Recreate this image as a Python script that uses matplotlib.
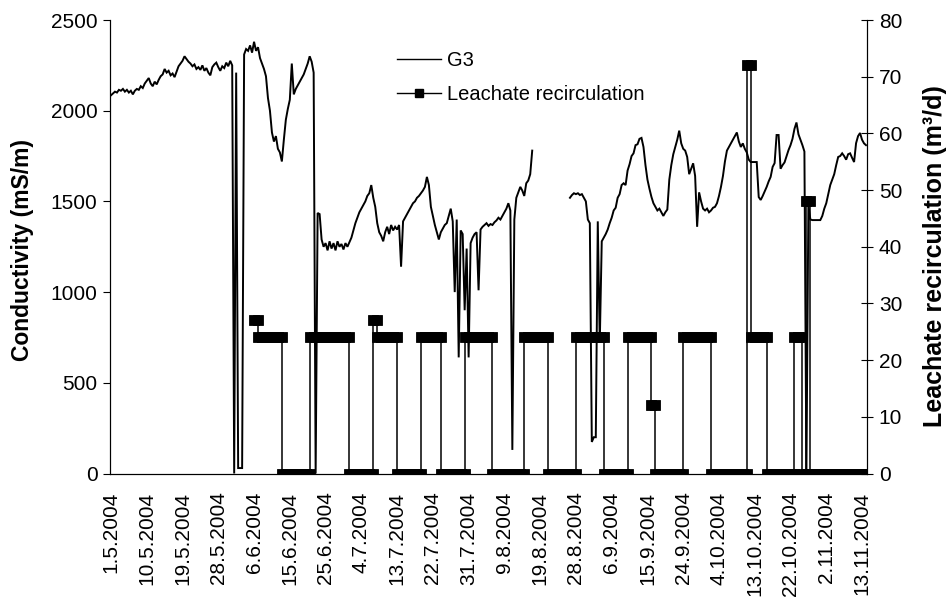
import matplotlib
matplotlib.use('Agg')
import matplotlib.pyplot as plt
from matplotlib.lines import Line2D
import numpy as np

plt.rcParams['font.family'] = ['Liberation Sans', 'DejaVu Sans']

# date labels on the category axis, one every 18 readings
date_labels = ['1.5.2004', '10.5.2004', '19.5.2004', '28.5.2004', '6.6.2004',
               '15.6.2004', '25.6.2004', '4.7.2004', '13.7.2004', '22.7.2004',
               '31.7.2004', '9.8.2004', '19.8.2004', '28.8.2004', '6.9.2004',
               '15.9.2004', '24.9.2004', '4.10.2004', '13.10.2004', '22.10.2004',
               '2.11.2004', '13.11.2004']
per_label = 18

nan = np.nan
# conductivity in well G3 (mS/m), two readings per day
g3 = [
    2085, 2095, 2105, 2100, 2115, 2110, 2120, 2105, 2115, 2100, 2110, 2090, 2110, 2120, 2115, 2135, 2125, 2150,
    2165, 2180, 2150, 2135, 2160, 2145, 2170, 2190, 2200, 2230, 2210, 2220, 2195, 2205, 2185, 2215, 2245, 2260,
    2275, 2300, 2285, 2270, 2260, 2245, 2255, 2230, 2240, 2225, 2250, 2220, 2235, 2210, 2195, 2240, 2255, 2265,
    2240, 2220, 2245, 2235, 2265, 2245, 2275, 2250, 0, 2210, 30, 30, 30, 2310, 2340, 2330, 2360, 2320,
    2380, 2330, 2350, 2290, 2260, 2230, 2190, 2070, 2000, 1880, 1830, 1860, 1790, 1770, 1720, 1840, 1950, 2010,
    2060, 2260, 2090, 2120, 2140, 2160, 2180, 2200, 2230, 2260, 2300, 2270, 2210, 0, 1436, 1430, 1290, 1250,
    1270, 1230, 1280, 1240, 1270, 1230, 1280, 1250, 1265, 1235, 1270, 1250, 1275, 1300, 1340, 1380, 1410, 1440,
    1460, 1480, 1500, 1530, 1545, 1590, 1520, 1470, 1380, 1330, 1310, 1280, 1330, 1360, 1320, 1370, 1340, 1360,
    1345, 1370, 1140, 1390, 1410, 1430, 1450, 1470, 1490, 1500, 1520, 1530, 1545, 1560, 1580, 1635, 1590, 1470,
    1420, 1370, 1330, 1290, 1330, 1350, 1370, 1380, 1420, 1460, 1390, 1000, 1400, 640, 1340, 1320, 900, 1240,
    640, 1270, 1300, 1320, 1330, 1010, 1345, 1360, 1370, 1380, 1365, 1375, 1370, 1385, 1395, 1410, 1400, 1420,
    1440, 1460, 1490, 1450, 130, 1400, 1520, 1550, 1580, 1560, 1530, 1600, 1615, 1650, 1780, nan, nan, nan,
    nan, nan, nan, nan, nan, nan, nan, nan, nan, nan, nan, nan, nan, nan, nan, 1520, 1535, 1545,
    1540, 1545, 1535, 1540, 1520, 1500, 1400, 1380, 174, 200, 200, 1390, 720, 1280, 1300, 1320, 1345, 1380,
    1410, 1450, 1465, 1520, 1540, 1590, 1600, 1590, 1670, 1705, 1750, 1765, 1810, 1815, 1845, 1850, 1800, 1700,
    1620, 1570, 1525, 1490, 1470, 1450, 1460, 1440, 1420, 1440, 1455, 1620, 1700, 1760, 1800, 1840, 1890, 1820,
    1790, 1780, 1745, 1650, 1680, 1710, 1640, 1360, 1550, 1500, 1460, 1450, 1460, 1440, 1450, 1465, 1470, 1490,
    1530, 1580, 1640, 1720, 1780, 1800, 1820, 1840, 1860, 1880, 1830, 1800, 1820, 1790, 1770, 1730, 1717, 1717,
    1717, 1717, 1524, 1508, 1530, 1555, 1580, 1610, 1635, 1690, 1711, 1866, 1866, 1680, 1700, 1715, 1750, 1783,
    1810, 1845, 1900, 1935, 1870, 1840, 1810, 1775, 0, 1480, 1400, 1397, 1397, 1397, 1397, 1397, 1420, 1460,
    1490, 1540, 1590, 1620, 1650, 1700, 1745, 1750, 1765, 1750, 1730, 1760, 1765, 1740, 1717, 1821, 1860, 1877,
    1840, 1820, 1810,
]

# leachate recirculation (m3/d): day a rate starts (days counted on the axis) and the rate
rec_start = [36, 37, 43, 50, 60, 66, 67, 72, 78, 83, 89, 96, 104, 110, 117, 124,
             130, 136, 137, 144, 151, 160, 161, 165, 172, 174, 175, 176]
rec_rate = [27, 24, 0, 24, 0, 27, 24, 0, 24, 0, 24, 0, 24, 0, 24, 0,
            24, 12, 0, 24, 0, 72, 24, 0, 24, 0, 48, 0]
rec_end = 190

g3 = np.array(g3, dtype=float)
gx = np.arange(len(g3)) / per_label

# each day is drawn from its start to its end at the same rate
days = np.arange(rec_start[0], rec_end)
daily = np.repeat(rec_rate, np.diff(rec_start + [rec_end]))
rx = np.column_stack([days, days + 1]).ravel() * 2 / per_label
ry = np.repeat(daily, 2)

fig = plt.figure(figsize=(9.47, 6.06), dpi=100)
ax = fig.add_axes([110 / 947, 1 - 473.5 / 606, 757 / 947, 453.5 / 606])
ax2 = ax.twinx()

ax.plot(gx, g3, color='black', lw=1.4, solid_joinstyle='miter')
ax2.plot(rx, ry, color='black', lw=1.1, marker='s', ms=6.6, mew=0.6)

ax.set_xlim(-0.5 / per_label, (len(g3) - 0.5) / per_label)
ax.set_ylim(0, 2500)
ax2.set_ylim(0, 80)
ax.set_yticks(np.arange(0, 2501, 500))
ax2.set_yticks(np.arange(0, 81, 10))
ax.set_xticks(np.arange(len(date_labels)))
ax.set_xticklabels(date_labels, rotation=90, va='top', ha='center')

ax.tick_params(axis='x', length=0, pad=13, labelsize=15)
ax.tick_params(axis='y', direction='out', length=5, width=0.8, labelsize=15, pad=4)
ax2.tick_params(axis='y', direction='inout', length=9, width=0.8, labelsize=15, pad=4)

for a in (ax, ax2):
    a.spines['top'].set_visible(False)
    for s in ('left', 'right', 'bottom'):
        a.spines[s].set_linewidth(0.8)

fig.text(22 / 947, 1 - 250 / 606, 'Conductivity (mS/m)', rotation=90,
         ha='center', va='center', fontsize=16.5, fontweight='bold')
fig.text(935 / 947, 1 - 256 / 606, 'Leachate recirculation (m³/d)', rotation=90,
         ha='center', va='center', fontsize=18, fontweight='bold')

handles = [Line2D([], [], color='black', lw=1.0),
           Line2D([], [], color='black', lw=1.0, marker='s', ms=6)]
ax2.legend(handles, ['G3', 'Leachate recirculation'], loc='upper left',
           bbox_to_anchor=(397 / 947, 1 - 51 / 606), bbox_transform=fig.transFigure,
           frameon=False, borderpad=0, borderaxespad=0, handlelength=2.2,
           handletextpad=0.3, labelspacing=0.75, fontsize=14.5)

fig.savefig('out.png', dpi=100)
